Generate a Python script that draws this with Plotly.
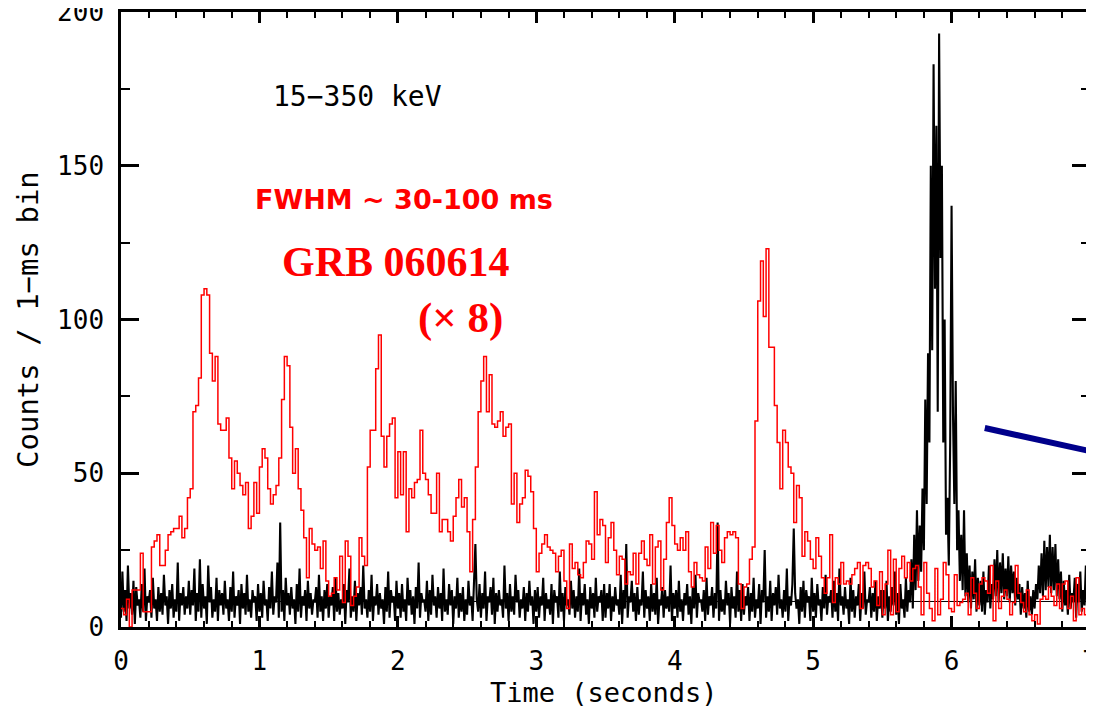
import plotly.graph_objects as go

# ---------------- data ----------------
# Red: GRB 060614 (x8), 20-ms bins starting at t = 0.00 s
red_bin = 0.02
red_counts = [
    6, 4, 9, 0, 12,   12, 12, 24, 5, 5,   5, 26, 28, 30, 20,   20, 25, 30, 31, 32,
    32, 36, 29, 32, 42,   45, 70, 72, 81, 108,   110, 108, 89, 80, 88,   66, 64, 64, 68, 55,
    45, 54, 50, 46, 43,   47, 32, 36, 47, 37,   52, 58, 55, 45, 40,   43, 46, 55, 74, 88,
    85, 65, 50, 58, 45,   38, 29, 16, 32, 27,   25, 26, 19, 28, 15,   10, 11, 16, 12, 23,
    8, 28, 23, 7, 10,   13, 29, 23, 20, 52,   64, 64, 84, 95, 62,   52, 62, 66, 68, 42,
    57, 43, 57, 31, 45,   42, 47, 48, 64, 50,   48, 43, 37, 37, 50,   31, 35, 35, 31, 28,
    36, 42, 48, 39, 42,   31, 18, 35, 52, 70,   80, 88, 70, 82, 66,   65, 67, 70, 62, 65,
    66, 40, 50, 34, 40,   42, 51, 49, 44, 32,   18, 24, 27, 30, 26,   25, 24, 18, 23, 25,
    15, 6, 27, 19, 21,   17, 16, 21, 28, 27,   22, 44, 30, 35, 33,   21, 29, 34, 25, 17,
    23, 22, 14, 18, 17,   24, 14, 24, 28, 22,   20, 30, 14, 26, 28,   12, 22, 34, 42, 33,
    27, 25, 29, 25, 31,   18, 13, 21, 17, 16,   15, 26, 19, 34, 24,   33, 25, 21, 29, 31,
    30, 31, 29, 14, 6,   13, 14, 22, 26, 67,   106, 119, 101, 123, 91,   91, 72, 60, 45, 64,
    60, 52, 50, 34, 46,   42, 23, 31, 28, 22,   19, 29, 23, 16, 11,   16, 30, 8, 16, 14,
    21, 14, 15, 14, 17,   19, 21, 6, 20, 21,   19, 13, 15, 7, 18,   4, 14, 25, 4, 22,
    5, 19, 23, 16, 21,   15, 19, 20, 13, 4,   21, 11, 6, 2, 19,   4, 9, 21, 17, 6,
    5, 17, 7, 8, 9,   11, 4, 16, 11, 6,   14, 16, 15, 11, 20,   2, 15, 6, 10, 12,
    9, 4, 8, 20, 11,   8, 5, 12, 4, 2,   4, 1, 9, 10, 9,   13, 10, 7, 14, 6,
    14, 15, 6, 10, 2,   16, 4, 6, 4, 17,
]

# Black: 15-350 keV counts, sampled every 10 ms starting at t = 0.00 s
black_step = 0.01
black_counts = [
    3, 18, 5, 12, 2, 20, 6, 11, 4, 15, 1, 13, 7, 9, 3, 14, 5, 19, 2, 10, 8, 12, 3, 16, 6,
    9, 2, 13, 5, 11, 4, 17, 7, 10, 1, 12, 6, 14, 3, 9, 5, 21, 2, 11, 7, 13, 4, 10, 6, 15,
    4, 12, 7, 19, 2, 11, 5, 22, 3, 14, 6, 10, 1, 20, 8, 13, 3, 9, 5, 16, 2, 12, 7, 11, 4,
    15, 6, 9, 2, 13, 5, 18, 3, 10, 7, 12, 1, 14, 6, 11, 4, 17, 5, 9, 3, 12, 8, 10, 2, 14,
    5, 11, 3, 15, 7, 9, 2, 13, 6, 18, 4, 10, 8, 21, 3, 34, 5, 12, 2, 16, 7, 11, 4, 13, 6,
    9, 1, 14, 5, 19, 3, 10, 7, 12, 2, 15, 6, 11, 4, 9, 8, 13, 3, 17, 5, 10, 2, 12, 6, 14,
    3, 10, 7, 13, 2, 16, 5, 11, 4, 9, 6, 14, 1, 12, 8, 19, 3, 10, 5, 15, 2, 11, 7, 13, 4,
    20, 6, 9, 3, 12, 5, 17, 2, 10, 7, 14, 4, 11, 6, 9, 1, 13, 5, 18, 3, 12, 8, 10, 2, 15,
    6, 11, 3, 14, 5, 9, 2, 16, 7, 12, 4, 10, 1, 13, 6, 21, 3, 11, 8, 9, 5, 15, 2, 12, 4,
    17, 7, 10, 3, 13, 6, 11, 2, 19, 5, 9, 4, 14, 7, 12, 1, 10, 6, 16, 3, 11, 5, 13, 2, 9,
    4, 15, 7, 10, 2, 12, 27, 9, 5, 14, 3, 11, 6, 18, 2, 10, 8, 13, 4, 16, 1, 11, 5, 12, 7,
    9, 3, 20, 6, 11, 2, 14, 5, 10, 4, 17, 8, 12, 3, 9, 6, 13, 2, 11, 5, 15, 7, 10, 1, 12,
    5, 13, 3, 10, 7, 16, 2, 11, 6, 9, 4, 14, 1, 12, 8, 10, 3, 18, 5, 11, 2, 13, 7, 9, 4,
    15, 6, 12, 3, 10, 5, 19, 2, 11, 7, 14, 4, 9, 1, 13, 6, 11, 3, 16, 5, 10, 8, 12, 2, 14,
    3, 11, 6, 14, 2, 10, 5, 13, 7, 9, 4, 17, 1, 12, 6, 27, 3, 10, 8, 15, 5, 11, 2, 13, 4,
    9, 7, 18, 3, 12, 6, 10, 2, 14, 5, 11, 4, 16, 1, 9, 7, 13, 3, 12, 6, 10, 5, 20, 2, 11,
    6, 12, 3, 15, 5, 9, 2, 11, 7, 14, 4, 10, 1, 13, 6, 17, 3, 11, 8, 9, 5, 12, 2, 16, 4,
    10, 7, 13, 3, 11, 6, 34, 2, 12, 5, 9, 4, 15, 7, 11, 1, 13, 6, 10, 3, 18, 5, 12, 2, 14,
    4, 10, 7, 13, 2, 11, 5, 16, 3, 9, 6, 14, 1, 12, 8, 25, 3, 10, 5, 15, 2, 11, 7, 13, 4,
    17, 6, 9, 3, 12, 5, 19, 2, 10, 7, 14, 32, 11, 6, 9, 1, 13, 5, 15, 3, 12, 8, 10, 2, 16,
    5, 11, 3, 14, 7, 9, 2, 13, 6, 17, 4, 10, 8, 12, 3, 15, 5, 11, 2, 19, 7, 10, 4, 13, 6,
    9, 1, 16, 5, 12, 3, 10, 7, 14, 2, 11, 6, 18, 4, 9, 8, 13, 3, 11, 5, 15, 2, 10, 6, 12,
    3, 12, 6, 15, 2, 10, 5, 13, 7, 18, 4, 11, 1, 14, 6, 9, 3, 16, 5, 12,
    8, 22, 6, 30, 12, 38, 15, 33, 18, 45,
    25, 74, 40, 89, 60, 150, 90, 183, 110, 163,
    70, 193, 120, 150, 60, 100, 30, 42, 20, 60,
    137, 70, 40, 80, 25, 38, 15, 30, 12, 38,
    10, 24, 8, 20, 6, 18, 9, 22, 5, 16,
    7, 15, 5, 18, 4, 12, 8, 20, 6, 14,
    9, 22, 10, 25, 8, 21, 11, 24, 9, 19,
    10, 23, 8, 20, 11, 18, 7, 16, 9, 14,
    4, 13, 6, 11, 3, 15, 5, 10, 4, 12,
    6, 14, 9, 20, 11, 24, 10, 28, 12, 26,
    13, 30, 11, 26, 12, 27, 10, 22, 9, 18,
    5, 15, 7, 12, 4, 17, 6, 11, 8, 16,
    3, 14, 8, 18, 5, 12, 7, 20, 4, 15,
]

background_level = 8.3
blue_t = [6.24, 7.05]
blue_y = [64.7, 56.7]

x_ticks = [0, 1, 2, 3, 4, 5, 6, 7]
y_ticks = [0, 50, 100, 150, 200]

# ---------------- figure ----------------
red_t = [i * red_bin for i in range(len(red_counts))] + [len(red_counts) * red_bin]
red_y = red_counts + [red_counts[-1]]
black_t = [i * black_step for i in range(len(black_counts))]

fig = go.Figure()
fig.add_trace(go.Scatter(x=[0, 7], y=[background_level, background_level], mode="lines",
                         line=dict(color="black", width=1), hoverinfo="skip"))
fig.add_trace(go.Scatter(x=black_t, y=black_counts, mode="lines",
                         line=dict(color="black", width=2.1), hoverinfo="skip"))
fig.add_trace(go.Scatter(x=red_t, y=red_y, mode="lines", line_shape="hv",
                         line=dict(color="#ff0000", width=1.5), hoverinfo="skip"))
fig.add_trace(go.Scatter(x=blue_t, y=blue_y, mode="lines",
                         line=dict(color="#00008b", width=6), hoverinfo="skip"))

MONO = "DejaVu Sans Mono"
tickfont = dict(family=MONO, size=26, color="black")
fig.update_xaxes(range=[0, 7], tickvals=x_ticks, ticktext=[str(v) for v in x_ticks],
                 ticks="inside", ticklen=11, tickwidth=2.5, tickcolor="black",
                 minor=dict(ticks="inside", dtick=0.2, ticklen=6, tickwidth=2, tickcolor="black"),
                 showline=True, linewidth=2.5, linecolor="black", mirror="allticks",
                 showgrid=False, zeroline=False, tickfont=tickfont, ticklabelstandoff=9,
                 automargin=False, ticklabeloverflow="allow")
fig.update_yaxes(range=[0, 200], tickvals=y_ticks, ticktext=[str(v) for v in y_ticks],
                 ticks="inside", ticklen=18, tickwidth=2.5, tickcolor="black",
                 minor=dict(ticks="inside", dtick=25, ticklen=9, tickwidth=2, tickcolor="black"),
                 showline=True, linewidth=2.5, linecolor="black", mirror="allticks",
                 showgrid=False, zeroline=False, tickfont=tickfont, ticklabelstandoff=9,
                 automargin=False, ticklabeloverflow="allow")

# The page places the figure 8 px in from the window's top-left corner,
# so the margins below are the reference's pixel margins minus that offset.
OFF = 8
W, H = 1094, 709
L, T = 121 - OFF, 12 - OFF
R = W - (1090 - OFF)
B = H - (627 - OFF)

fig.update_layout(
    width=W, height=H,
    margin=dict(l=L, r=R, t=T, b=B, autoexpand=False),
    paper_bgcolor="white", plot_bgcolor="white",
    showlegend=False,
    annotations=[
        dict(text="Time (seconds)", x=604, y=692, showarrow=False,
             font=dict(family=MONO, size=27, color="black")),
        dict(text="Counts / 1\u2212ms bin", x=28, y=320, showarrow=False, textangle=-90,
             font=dict(family=MONO, size=29, color="black")),
        dict(text="15\u2212350 keV", x=357, y=97, showarrow=False,
             font=dict(family=MONO, size=28, color="black")),
        dict(text="<b>FWHM ~ 30-100 ms</b>", x=404, y=199, showarrow=False,
             font=dict(family="DejaVu Sans", size=27, color="#ff0000")),
        dict(text="<b>GRB 060614</b>", x=396, y=262, showarrow=False,
             font=dict(family="Liberation Serif", size=42, color="#ff0000")),
        dict(text="<b>(\u00d7 8)</b>", x=460, y=318, showarrow=False,
             font=dict(family="Liberation Serif", size=43, color="#ff0000")),
    ],
)

# place annotations by window pixel position (converted to paper coordinates)
pw, ph = W - L - R, H - T - B
new_ann = []
for a in fig.layout.annotations:
    a = a.to_plotly_json()
    px, py = a["x"] - OFF, a["y"] - OFF
    a["xref"], a["yref"] = "paper", "paper"
    a["x"] = (px - L) / pw
    a["y"] = 1 - (py - T) / ph
    a["xanchor"], a["yanchor"] = "center", "middle"
    new_ann.append(a)
fig.layout.annotations = new_ann

fig.write_html("out.html")
